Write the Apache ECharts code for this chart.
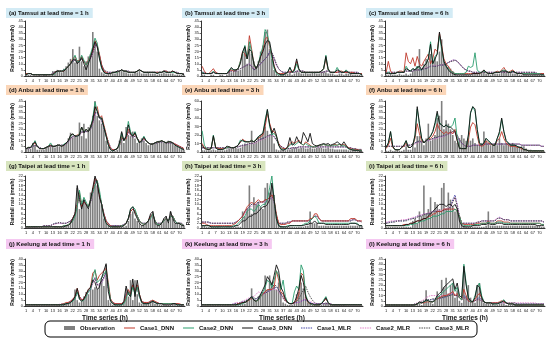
<!DOCTYPE html>
<html><head><meta charset="utf-8">
<script src="https://cdn.jsdelivr.net/npm/echarts@6/dist/echarts.min.js"></script>
<style>html,body{margin:0;padding:0;background:#fff}#c{width:550px;height:344px}</style>
</head><body><div id="c"></div>
<script>
// ---- categories / ticks ----
const hours = Array.from({length:72},(_,i)=>String(i+1));
const panelTitles = ['(a) Tamsui at lead time = 1 h','(b) Tamsui at lead time = 3 h','(c) Tamsui at lead time = 6 h',
 '(d) Anbu at lead time = 1 h','(e) Anbu at lead time = 3 h','(f) Anbu at lead time = 6 h',
 '(g) Taipei at lead time = 1 h','(h) Taipei at lead time = 3 h','(i) Taipei at lead time = 6 h',
 '(j) Keelung at lead time = 1 h','(k) Keelung at lead time = 3 h','(l) Keelung at lead time = 6 h'];
const yMaxes = [45,45,45,45,60,45,22,22,22,40,40,45];
const ySteps = [5,5,5,5,10,5,2,2,2,5,5,5];
const seriesNames = ['Observation','Case1_DNN','Case2_DNN','Case3_DNN','Case1_MLR','Case2_MLR','Case3_MLR'];

// ---- (a) Tamsui 1 h ----
const obsA=[1,1,1,0,0,0,1,0,1,1,0,0, 4,4,5,4,3,6,8,11,14,22,11,13, 24,12,8,12,16,18,36,27,20,6,3,2, 1,2,2,3,2,3,4,4,3,3,2,2, 2,3,3,4,2,2,2,3,2,2,2,1, 2,2,3,2,2,2,2,1,1,1,1,1];
const c1dA=[2,2,2,1,1,1,1,1,1,1,1,1, 1,3,4,4,4,4,6,8,10,14,16,12, 13,16,12,9,13,17,21,29,25,18,9,4, 3,2,2,3,3,3,4,5,4,4,3,3, 3,3,4,5,4,3,3,3,3,3,3,3, 3,3,4,4,3,3,4,3,2,2,2,1];
const c2dA=[1,2,2,1,1,1,1,1,1,1,1,1, 1,2,4,4,4,5,6,8,10,13,17,12, 12,17,13,9,12,18,24,31,27,15,6,3, 2,2,2,3,3,3,4,5,4,4,3,3, 3,3,4,5,4,3,3,3,3,3,3,2, 3,3,4,3,3,3,3,3,2,2,2,1];
const c3dA=[1,2,2,1,1,1,1,1,1,1,1,1, 1,3,4,4,4,4,6,8,10,13,14,10, 12,15,10,5,10,15,22,28,24,14,7,3, 2,2,2,3,3,4,4,5,4,4,3,3, 3,3,4,5,4,3,3,3,3,3,3,2, 3,3,4,3,3,3,4,3,2,2,2,1];
const c1mA=[2,2,2,1,1,1,1,1,1,1,1,1, 2,3,4,4,4,5,6,8,10,12,13,12, 12,14,12,10,12,15,19,26,24,17,9,5, 3,3,3,3,3,4,4,5,4,4,4,3, 3,3,4,5,4,3,3,3,3,3,3,3, 3,3,4,4,3,3,4,3,3,2,2,2];
const c2mA=[2,2,2,1,1,1,1,1,1,1,1,1, 2,3,4,4,4,5,6,8,10,12,14,12, 12,14,12,10,12,14,18,25,23,16,8,4, 3,3,3,3,3,4,4,5,4,4,4,3, 3,3,4,5,4,3,3,3,3,3,3,3, 3,3,4,4,3,3,4,3,3,2,2,2];
const c3mA=[2,2,2,1,1,1,1,1,1,1,1,1, 2,3,4,4,4,5,6,8,10,12,13,11, 12,14,11,9,12,15,19,25,24,17,9,5, 4,3,3,3,3,4,4,5,4,4,4,3, 3,3,4,5,4,3,3,3,3,3,3,3, 3,3,4,4,3,3,4,3,3,2,2,2];
// ---- (b) Tamsui 3 h ----
const obsB=[1,1,0,0,1,1,0,0,1,1,0,1, 4,3,4,5,4,5,18,24,10,25,18,12, 8,12,20,25,36,38,22,14,5,2,1,1, 1,2,2,3,1,2,4,3,2,2,3,2, 2,3,3,2,2,3,4,3,2,2,2,1, 1,2,2,1,2,2,2,1,1,1,1,1];
const c1dB=[8,4,2,2,4,6,3,2,2,2,2,2, 4,5,4,5,6,12,20,18,14,33,22,10, 6,10,16,22,30,32,24,16,8,3,2,2, 2,2,3,4,3,6,12,5,3,3,3,3, 3,3,3,3,3,4,6,14,5,3,3,3, 3,4,4,3,3,3,3,3,2,2,2,2];
const c2dB=[3,2,2,2,2,4,2,2,2,2,2,2, 5,6,5,5,6,12,18,25,14,28,20,10, 6,10,18,24,38,34,26,14,6,2,1,1, 1,2,3,7,3,4,10,5,3,3,3,3, 3,3,3,3,3,4,6,17,5,3,3,3, 7,4,3,3,5,3,2,2,2,2,2,1];
const c3dB=[2,2,2,2,2,3,2,2,2,2,2,2, 4,7,5,5,6,10,20,24,14,22,20,10, 6,10,16,20,26,29,28,18,8,3,2,1, 1,2,3,7,3,5,14,6,3,3,3,3, 3,3,3,3,3,4,6,16,6,3,3,3, 5,4,3,3,4,3,2,2,2,2,2,1];
const c1mB=[3,3,2,2,2,3,3,2,2,2,2,2, 3,4,4,4,5,6,7,8,9,10,8,5, 6,8,10,12,14,16,20,19,14,9,6,4, 3,3,3,3,3,3,4,4,4,4,3,3, 3,3,3,3,3,3,3,4,4,3,3,3, 3,3,3,3,3,3,3,3,3,3,2,2];
const c2mB=[3,3,2,2,2,3,3,2,2,2,2,2, 3,4,4,4,5,6,7,8,9,10,8,6, 6,8,10,12,14,16,19,18,14,9,6,4, 3,3,3,3,3,3,4,4,4,4,3,3, 3,3,3,3,3,3,3,4,4,3,3,3, 3,3,3,3,3,3,3,3,3,3,2,2];
const c3mB=[3,3,2,2,2,3,3,2,2,2,2,2, 3,4,4,4,5,6,7,8,9,9,8,5, 6,8,10,12,14,16,19,19,15,10,6,4, 3,3,3,3,3,3,4,4,4,4,3,3, 3,3,3,3,3,3,3,4,4,3,3,3, 3,3,3,3,3,3,3,3,3,3,2,2];
// ---- (c) Tamsui 6 h ----
const obsC=[1,1,2,1,1,1,2,1,1,2,1,2, 4,5,8,22,6,10,14,12,18,10,15,12, 20,30,12,10,8,6,4,2,1,1,1,1, 1,1,1,2,2,2,2,3,5,2,2,1, 2,2,2,2,3,4,4,3,3,2,2,2, 1,1,1,1,1,1,1,1,1,1,1,1];
const c1dC=[3,12,4,2,2,3,4,4,3,19,12,10, 15,8,16,10,8,12,15,18,10,14,22,20, 35,25,14,10,8,5,3,2,2,2,2,2, 2,2,2,2,2,2,2,3,4,3,2,2, 2,3,4,3,5,7,4,3,4,5,3,2, 2,2,2,2,2,2,2,2,2,2,2,2];
const c2dC=[2,3,2,2,2,3,3,3,3,8,5,4, 6,5,8,6,5,8,10,14,28,10,16,18, 33,22,12,8,6,4,3,2,2,2,2,2, 3,8,7,8,19,5,3,3,4,3,2,2, 2,3,3,3,4,5,4,3,3,4,3,2, 2,2,2,2,2,2,2,2,2,2,1,1];
const c3dC=[2,2,2,2,2,3,3,3,3,6,5,4, 6,5,7,8,5,8,10,14,26,10,14,18, 36,24,12,8,5,3,2,1,1,1,1,1, 1,1,1,2,2,2,2,3,5,3,2,2, 2,3,3,3,4,4,4,3,3,4,3,2, 2,2,1,1,1,1,1,1,1,1,1,1];
const c1mC=[3,3,3,3,3,3,3,3,3,4,4,4, 4,5,5,5,5,6,6,7,8,8,8,8, 9,9,9,10,11,12,13,13,12,10,8,6, 5,4,4,3,3,3,3,3,3,3,3,3, 3,3,3,3,3,3,3,3,3,3,3,3, 3,3,3,3,3,3,3,3,2,2,2,2];
const c2mC=[3,3,3,3,3,3,3,3,3,4,4,4, 4,5,5,5,6,6,7,7,8,8,9,8, 9,9,10,10,11,12,13,13,12,10,8,6, 5,4,4,3,3,3,3,3,3,3,3,3, 3,3,3,3,3,3,3,3,3,3,3,3, 3,3,3,3,3,3,3,3,2,2,2,2];
const c3mC=[3,3,3,3,3,3,3,3,3,4,4,4, 4,5,5,5,5,6,6,7,8,8,8,8, 9,9,9,10,11,12,12,13,12,10,8,6, 5,4,4,3,3,3,3,3,3,3,3,3, 3,3,3,3,3,3,3,3,3,3,3,3, 3,3,3,3,3,3,3,3,2,2,2,2];
// ---- (d) Anbu 1 h ----
const obsD=[3,3,3,8,6,2,2,2,2,4,5,5, 5,4,6,5,5,6,8,12,17,13,15,13, 26,14,25,12,22,24,32,45,32,28,25,22, 10,5,1,1,1,2,10,17,8,22,15,14, 18,12,8,10,12,10,8,6,7,8,8,9, 10,9,8,9,10,9,8,6,5,4,3,2];
const c1dD=[3,4,4,6,8,5,3,3,3,4,5,6, 5,5,6,6,5,6,8,10,14,16,14,15, 16,22,18,20,18,22,28,38,40,30,32,24, 16,8,3,2,2,3,6,14,10,12,20,16, 14,16,12,9,10,12,10,8,7,7,8,9, 9,10,9,8,9,9,8,7,6,5,4,3];
const c2dD=[3,4,4,6,10,5,3,3,3,4,5,8, 5,5,6,6,5,7,8,10,14,16,14,14, 16,22,18,20,18,22,30,44,36,30,30,22, 14,6,2,1,2,3,6,16,10,14,27,18, 14,18,12,8,10,14,10,8,7,7,8,9, 9,10,9,8,9,9,8,6,5,4,3,2];
const c3dD=[3,4,4,7,9,5,3,3,3,4,5,6, 5,5,6,6,5,6,8,10,15,16,14,14, 15,22,17,20,18,22,28,40,36,30,30,22, 14,6,2,1,2,3,8,18,10,14,24,16, 14,17,12,8,10,13,10,8,7,7,8,9, 9,10,9,8,9,9,8,6,5,4,3,2];
const c1mD=[3,3,4,5,6,5,4,3,3,4,5,5, 5,5,6,6,6,6,7,9,12,14,14,14, 15,18,18,18,18,20,26,34,35,30,28,22, 15,8,4,2,2,3,6,12,12,12,18,15, 13,14,12,9,9,11,10,8,7,7,8,8, 9,9,9,8,8,8,8,7,6,5,4,3];
const c2mD=[3,3,4,5,6,5,4,3,3,4,5,5, 5,5,6,6,6,6,7,9,11,13,14,14, 15,17,18,18,18,20,25,33,34,30,27,21, 14,8,4,2,2,3,6,11,12,12,17,15, 13,14,12,9,9,11,10,8,7,7,8,8, 9,9,9,8,8,8,8,7,6,5,4,3];
const c3mD=[3,3,4,5,6,5,4,3,3,4,5,5, 5,5,6,6,6,6,7,9,12,14,14,13, 15,18,17,18,18,20,26,35,35,31,28,22, 15,9,4,2,2,3,6,12,12,12,18,16, 13,14,12,9,9,11,10,8,7,7,8,8, 9,9,9,8,8,8,8,7,6,5,4,3];
// ---- (e) Anbu 3 h ----
const obsE=[2,2,2,2,2,3,2,2,2,2,2,3, 4,4,5,5,4,5,8,10,9,10,25,10, 12,18,20,22,30,25,20,25,10,3,2,2, 2,2,3,3,4,5,5,4,5,5,4,4, 5,4,4,5,5,5,4,4,5,4,4,3, 3,3,3,3,3,2,2,2,2,2,2,1];
const c1dE=[10,5,4,3,4,18,6,4,4,4,4,5, 6,5,5,6,8,12,15,13,12,12,14,12, 15,16,18,20,30,45,34,25,24,18,10,5, 4,4,6,10,12,10,12,14,10,8,12,10, 8,6,6,7,8,8,9,8,8,7,8,9, 8,9,8,9,7,5,4,3,3,3,2,2];
const c2dE=[25,8,4,3,4,20,5,3,3,3,4,5, 6,5,5,6,8,14,13,12,12,12,14,12, 15,18,20,22,38,50,30,20,22,18,8,4, 3,3,5,8,10,8,10,12,10,8,10,8, 7,6,6,7,8,8,9,8,8,7,8,8, 8,9,7,8,6,4,3,3,2,2,2,2];
const c3dE=[8,4,3,3,4,19,5,3,3,3,4,7, 6,5,5,6,8,12,14,12,12,12,13,12, 14,18,20,22,35,50,32,22,28,20,8,3, 2,3,6,17,8,10,18,12,10,23,18,12, 22,10,8,7,8,9,10,9,10,8,9,10, 12,10,8,12,8,4,3,2,2,2,1,1];
const c1mE=[5,5,5,5,5,5,5,5,5,5,5,5, 5,5,5,6,6,7,8,8,9,10,10,10, 12,14,15,16,17,18,20,20,18,14,10,7, 5,4,4,4,5,5,5,6,6,6,6,6, 6,6,6,6,6,6,6,6,6,6,6,6, 6,6,6,6,6,5,5,4,4,3,3,3];
const c2mE=[5,5,5,5,5,5,5,5,5,5,5,5, 5,5,5,6,6,7,7,8,9,9,10,10, 11,13,14,15,16,18,19,20,18,14,10,7, 5,4,4,4,5,5,5,6,6,6,6,6, 6,6,6,6,6,6,6,6,6,6,6,6, 6,6,6,6,6,5,5,4,4,3,3,3];
const c3mE=[5,5,5,5,5,5,5,5,5,5,5,5, 5,5,5,6,6,7,8,8,9,10,10,11, 12,14,15,16,17,19,20,21,18,14,10,7, 5,4,4,4,5,5,5,6,6,6,6,6, 6,6,6,6,6,6,6,6,6,6,6,6, 6,6,6,6,6,5,5,4,4,3,3,3];
// ---- (f) Anbu 6 h ----
const obsF=[1,1,2,1,1,2,1,1,2,5,2,2, 8,4,14,14,10,6,12,25,10,12,15,30, 32,45,20,28,25,20,15,10,8,12,15,12, 10,12,10,12,8,6,6,8,18,10,8,6, 6,8,6,12,8,6,8,8,7,8,6,5, 5,5,5,3,2,2,1,1,1,1,1,1];
const c1dF=[3,6,12,4,2,2,2,4,5,8,4,4, 6,12,25,16,10,8,10,12,12,14,18,25, 20,18,16,18,16,18,16,20,10,4,3,3, 3,10,22,26,24,14,6,5,6,10,8,7, 6,6,10,12,18,12,8,6,5,5,5,4, 4,3,2,2,1,1,1,1,1,1,1,1];
const c2dF=[4,8,18,5,2,2,2,4,6,10,4,4, 6,14,38,24,12,8,10,12,14,18,24,34, 26,24,22,24,22,22,24,30,12,4,3,3, 3,14,34,40,36,20,8,6,8,12,10,8, 6,6,12,16,29,18,10,8,6,6,6,5, 4,4,2,2,1,1,1,1,1,1,1,1];
const c3dF=[4,8,18,5,2,2,2,4,6,10,4,4, 6,15,40,25,12,8,10,12,14,18,26,36, 25,24,22,24,22,22,20,18,10,3,3,3, 3,15,35,40,38,20,8,6,8,12,10,8, 6,6,12,18,30,18,10,8,6,6,6,5, 4,4,2,2,1,1,1,1,1,1,1,1];
const c1mF=[5,5,5,5,5,5,5,5,5,6,6,6, 7,8,9,9,9,9,10,10,11,12,12,13, 13,14,14,15,16,17,18,17,14,10,8,6, 5,5,5,6,6,6,6,6,7,7,7,7, 7,7,7,7,7,7,7,7,7,7,7,7, 7,6,6,6,6,6,6,6,6,6,5,5];
const c2mF=[5,5,5,5,5,5,5,5,5,6,6,6, 7,7,8,9,9,9,10,10,11,11,12,12, 13,13,14,15,16,16,17,17,14,10,8,6, 5,5,5,6,6,6,6,6,7,7,7,7, 7,7,7,7,7,7,7,7,7,7,7,7, 7,6,6,6,6,6,6,6,6,6,5,5];
const c3mF=[5,5,5,5,5,5,5,5,5,6,6,6, 7,8,9,10,9,9,10,11,11,12,13,13, 14,14,15,15,16,17,18,18,15,11,8,6, 5,5,5,6,6,6,6,6,7,7,7,7, 7,7,7,7,7,7,7,7,7,7,7,7, 7,6,6,6,6,6,6,6,6,6,5,5];
// ---- (g) Taipei 1 h ----
const obsG=[0.5,0.5,0.5,0.5,0.5,0.3,0.3,0.3,0.3,0.3,0.3,0.3, 0.3,0.5,0.5,0.5,0.5,0.5,1,1,3,4,6,17, 8,10,12,10,8,15,17,21,18,14,10,4, 2,1,0.5,0.5,0.5,0.5,0.5,0.5,0.5,1,3,6, 7,4,3,2,1,1,2,3,5,7,3,1, 1,2,4,5,2,7,4,2,2,2,1,1];
const c1dG=[0.5,0.5,0.5,0.5,0.5,0.5,0.5,0.5,0.5,0.5,0.5,0.5, 0.5,0.5,0.5,0.5,0.5,1,1,1.5,2,4,6,10, 15,9,11,10,9,12,16,21,20,14,10,6, 3,1.5,1,0.5,0.5,0.5,0.5,1,1,2,4,7, 8,7,5,3,2,1.5,2,3,5,6,3,1.5, 1.5,2,3,4,3,5,5,3,2,2,1.5,1];
const c2dG=[0.5,0.5,0.5,0.5,0.5,0.5,0.5,0.5,0.5,0.5,0.5,0.5, 0.5,0.5,0.5,0.5,0.5,1,1,1.5,2,3,5,9, 16,10,13,11,9,12,15,18,20,16,10,5, 2,1,0.5,0.5,0.5,0.5,0.5,1,1,2,4,8, 9,8,5,3,2,1.5,2,3,4,6,3,1.5, 1.5,2,3,4,3,5,5,3,2,2,1.5,1];
const c3dG=[0.5,0.5,0.5,0.5,0.5,0.5,0.5,0.5,0.5,0.5,0.5,0.5, 0.5,0.5,0.5,0.5,0.5,0.5,1,1,2,4,6,18, 12,8,12,10,8,12,17,22,19,13,10,5, 2,1,0.5,0.5,0.5,0.5,0.5,0.5,1,2,4,8, 9,6,4,2,1,1,2,3,6,7,2,1, 1,2,4,5,2,7,4,2,2,2,1,1];
const c1mG=[0.5,0.5,0.5,0.5,0.5,0.5,0.5,0.5,1,1,1,1, 1.5,2,2,2,2,2,2,2.5,3,4,6,10, 13,10,11,10,9,11,15,20,19,14,10,6, 3,2,1,1,1,1,1,1,1.5,2,4,7, 8,7,5,3,2,2,2,3,5,6,3,2, 2,2,3,4,3,5,5,3,2,2,2,1];
const c2mG=[0.5,0.5,0.5,0.5,0.5,0.5,0.5,0.5,1,1,1,1, 1.5,1.5,2,2,2,2,2,2.5,3,4,6,9, 13,10,11,10,9,11,14,19,19,14,10,6, 3,2,1,1,1,1,1,1,1.5,2,4,7, 8,7,5,3,2,2,2,3,5,6,3,2, 2,2,3,4,3,5,5,3,2,2,2,1];
const c3mG=[0.5,0.5,0.5,0.5,0.5,0.5,0.5,0.5,1,1,1,1, 1.5,2,2,2.5,2,2,2,2.5,3,4,6,10, 14,10,11,10,9,11,15,20,20,14,10,6, 3,2,1,1,1,1,1,1,1.5,2,4,7, 8,7,5,3,2,2,2,3,5,6,3,2, 2,2,3,4,3,5,5,3,2,2,2,1];
// ---- (h) Taipei 3 h ----
const obsH=[1,1,0.5,0.5,0.5,0.5,0.5,0.5,0.3,0.3,0.3,0.3, 0.3,0.3,0.3,0.5,0.5,0.5,7,5,8,18,6,13, 10,11,9,8,17,19,15,18,14,5,2,1, 0.5,0.5,0.5,0.5,0.5,0.5,0.5,0.5,0.5,0.5,1,1, 7,2,2,2,1,1,1,1,1,1,1,1, 1,1,1,1,1,1,1,1,1,1,1,1];
const c1dH=[2,2,1.5,1,1,1,1,1,1,1,1,1, 1,1,1.5,2,3,4,5,7,9,10,11,10, 11,12,11,11,12,12,13,14,12,6,2,1.5, 1.5,1.5,2,2,3,3,3,3,3,3,3,3, 4,4,6,6,4,3,3,3,3,3,3,3, 3,3,3,3,3,3,4,4,4,3,3,3];
const c2dH=[1,1,1,1,0.5,0.5,0.5,0.5,0.5,0.5,0.5,0.5, 0.5,0.5,1,1,2,3,4,5,7,8,8,7, 8,10,9,10,10,12,17,22,12,4,1,0.5, 0.5,0.5,1,1,1,1,1,1,1,1.5,2,2, 3,4,5,4,2,2,2,2,2,2,2,2, 2,2,2,2,2,2,2,2,2,2,1,1];
const c3dH=[1,1,1,1,0.5,0.5,0.5,0.5,0.5,0.5,0.5,0.5, 0.5,0.5,0.5,1,1,2,3,3,4,5,5,6, 6,7,8,9,9,10,12,19,12,4,1,0.5, 0.5,0.5,0.5,1,1,1,1,1,1,1,1.5,1.5, 2,2,3,2,2,2,2,1.5,1.5,1.5,1.5,1.5, 1.5,1.5,1.5,1.5,1.5,1.5,2,2,2,1.5,1,1];
const c1mH=[2.5,2.5,2.5,2.5,2,2,2,2,2,2,2,2, 2,2,2,2.5,3,4,5,7,8,9,10,10, 10,11,11,11,11,12,12,13,11,5,2,2, 2,2,2.5,2.5,3,3,3,3,3,3,3,3, 3,4,5,5,4,3,3,3,3,3,3,3, 3,3,3,3,3,3,3,3.5,3.5,3,3,2.5];
const c2mH=[2.5,2.5,2.5,2,2,2,2,2,2,2,2,2, 2,2,2,2.5,3,4,5,6,8,9,9,10, 10,10,11,11,11,12,12,13,11,5,2,2, 2,2,2.5,2.5,3,3,3,3,3,3,3,3, 3,4,5,5,4,3,3,3,3,3,3,3, 3,3,3,3,3,3,3.5,3.5,3.5,3,3,2.5];
const c3mH=[2.5,2.5,2.5,2.5,2,2,2,2,2,2,2,2, 2,2,2,2.5,3,4,5,7,8,9,10,10, 10,11,11,11,12,12,13,14,11,5,2,2, 2,2,2.5,2.5,3,3,3,3,3,3,3,3, 3,4,5,5,4,3,3,3,3,3,3,3, 3,3,3,3,3,3,3,3.5,3.5,3,3,2.5];
// ---- (i) Taipei 6 h ----
const obsI=[0.5,0.5,0.5,0.5,0.5,0.5,0.5,0.5,0.5,0.5,0.5,0.5, 3,4,2,7,5,18,6,8,13,6,11,10, 8,17,19,8,15,12,9,7,8,5,2,1, 0.5,0.5,0.5,0.5,0.5,0.5,0.5,0.5,0.5,1,7,1, 1,1,1,1,1,1,1,1,1,1,1,1, 1,1,1,1,1,1,1,1,1,1,0.5,0.5];
const c1dI=[1,1,1,1,1,1,1,1,1.5,1.5,1.5,2, 2,2.5,3,3,3.5,4,4,5,5,6,6,7, 7,7,8,8,8,8,8,8,7,5,2,1.5, 1.5,1.5,1.5,1.5,1.5,2,2,2,2,2,3,2, 2,2,3,3,3,2.5,2.5,2.5,2,2,2,2, 2,2,2,2,2,2,2,2,2,2,1.5,1.5];
const c2dI=[1,1,1,1,1,1,1,1,1,1,1,1.5, 1.5,2,2,2.5,3,3,3.5,4,4,5,5,5, 5.5,6,6,7,7,7,7,8,7,5,2,1, 1,1,1,1,1.5,1.5,1.5,2,2,2,2.5,2, 2,2,2.5,2.5,2.5,2,2,2,2,2,2,2, 2,2,2,2,2,2,2,2,2,2,1.5,1.5];
const c3dI=[1,1,1,1,1,1,1,1,1,1.5,1.5,2, 2,2.5,3,3,3.5,4,4,5,6,7,8,9, 10,10,10,9,10,10,9,10,8,3,1,0.5, 0.5,0.5,0.5,1,1,1,1,1.5,1.5,1.5,2,1.5, 1.5,1.5,2,2,2,1.5,1.5,1.5,1.5,1.5,1.5,1.5, 1.5,1.5,1.5,1.5,1.5,1.5,1.5,1.5,1,1,1,1];
const c1mI=[2,2.5,2.5,2.5,3,3,3,3,3,3.5,3.5,4, 4,4.5,5,5,5.5,6,6,6,6.5,7,7,7, 7,7,7.5,8,8,9,12,14,10,5,2,2, 2,2,2,2,2,2.5,2.5,3,3,3,3,3, 3,3,4,4.5,4,3.5,3.5,3.5,3,3,3,3, 3,3,3,3,3,3,3,3,3,3,3,2.5];
const c2mI=[2.5,2.5,3,3,3,3,3,3.5,3.5,3.5,4,4, 4.5,4.5,5,5.5,5.5,6,6,6.5,6.5,7,7,7.5, 7.5,7.5,8,8,8.5,9,11,13,10,5,2,2, 2,2,2,2,2,2.5,2.5,3,3,3,3,3, 3,3.5,4,4.5,4,3.5,3.5,3.5,3,3,3,3, 3,3,3,3,3,3,3,3,3,3,3,2.5];
const c3mI=[2,2,2.5,2.5,2.5,3,3,3,3,3,3.5,3.5, 4,4,4.5,5,5,5.5,6,6,6,6.5,7,7, 7,7,7.5,8,8,9,11,13,9,5,2,2, 2,2,2,2,2,2.5,2.5,3,3,3,3,3, 3,3,4,4,4,3.5,3.5,3.5,3,3,3,3, 3,3,3,3,3,3,3,3,3,3,3,2.5];
// ---- (j) Keelung 1 h ----
const obsJ=[0.5,0.5,0.5,0.5,0.5,0.5,0.5,0.5,0.5,0.5,0.5,0.5, 0.5,0.5,0.5,1,1,1,2,2,3,5,14,5, 3,4,8,12,10,15,14,16,14,18,22,17, 35,5,3,1,1,1,1,1,3,15,8,22, 5,22,10,3,2,2,2,3,4,5,2,2, 1,1,1,1,1,1,2,2,1,1,1,0.5];
const c1dJ=[1,1,1,1,1,1,1,1,1,1,1,1, 1,1,1,1,1.5,2,3,3,4,6,8,15, 8,5,6,10,14,16,28,30,22,26,28,30, 32,20,6,3,2,2,2,2,3,8,14,10, 18,12,18,10,4,3,3,3,4,5,4,3, 2,2,2,2,2,2,2,2,2,2,1,1];
const c2dJ=[1,1,1,1,1,1,1,1,1,1,1,1, 1,1,1,1,1,1.5,2,2,3,4,6,12, 6,4,5,8,12,14,24,31,20,22,24,27, 30,18,5,2,1,1,1,1,2,6,12,8, 16,10,16,8,3,2,2,2,3,4,3,2, 2,2,2,2,2,2,2,2,1,1,1,1];
const c3dJ=[1,1,1,1,1,1,1,1,1,1,1,1, 1,1,1,1,1,1,2,2,3,5,8,15, 6,4,6,10,14,16,22,20,14,16,24,30, 36,12,4,2,1,1,1,1,4,17,10,8, 23,8,22,10,3,2,2,2,3,4,3,2, 2,2,1,1,1,1,2,2,1,1,1,1];
const c1mJ=[1,1,1,1,1,1,1,1,1,1,1,1, 1,1,1,1,1.5,2,2,3,4,5,7,12, 8,5,6,9,12,14,20,24,18,18,20,24, 28,15,5,3,2,2,2,2,3,10,12,10, 18,12,16,8,4,3,3,3,4,4,3,3, 2,2,2,2,2,2,2,2,2,1,1,1];
const c2mJ=[1,1,1,1,1,1,1,1,1,1,1,1, 1,1,1,1.5,1.5,2,2,3,4,5,7,11, 8,6,6,9,12,14,19,23,18,18,20,23, 27,15,6,3,2,2,2,2,3,9,12,10, 17,12,15,8,4,3,3,3,4,4,3,3, 2,2,2,2,2,2,2,2,2,1,1,1];
const c3mJ=[1,1,1,1,1,1,1,1,1,1,1,1, 1,1,1,1,1.5,2,2,3,4,5,7,12, 8,5,6,9,13,15,21,24,18,19,21,25, 29,16,5,3,2,2,2,2,3,10,13,10, 18,12,16,8,4,3,3,3,4,4,3,3, 2,2,2,2,2,2,2,2,2,1,1,1];
// ---- (k) Keelung 3 h ----
const obsK=[0.5,0.5,0.5,0.5,0.5,0.5,0.5,0.5,0.5,0.5,0.5,0.5, 0.5,0.5,0.5,1,1,2,3,2,5,6,15,6, 4,8,10,12,26,14,26,20,17,14,20,12, 3,2,1,1,1,3,10,12,20,15,8,3, 2,1,1,1,1,1,2,3,2,1,1,1, 1,1,1,1,0.5,0.5,0.5,0.5,0.5,0.5,0.5,0.5];
const c1dK=[1,1,1,1,1,1,1,1,1,1,1,1, 1,1,1,1,2,2,3,3,4,5,7,5, 4,5,8,10,12,14,14,14,16,30,22,12, 10,5,3,2,2,3,5,10,28,26,8,3, 2,1,1,1,1,2,4,6,3,1,1,1, 1,1,1,1,1,1,1,1,1,1,1,1];
const c2dK=[1,1,1,1,1,1,1,1,1,1,1,1, 1,1,1,1,1,1.5,2,3,4,6,8,5, 4,5,8,12,16,22,20,16,22,30,26,14, 22,8,3,2,2,12,17,14,35,30,10,4, 2,1,1,1,1,2,5,8,3,1,1,1, 1,1,1,1,1,1,1,1,1,1,1,1];
const c3dK=[1,1,1,1,1,1,1,1,1,1,1,1, 1,1,1,1,1.5,2,3,3,4,6,8,5, 4,6,10,14,18,25,22,18,26,35,30,16, 12,6,3,2,2,3,8,15,26,20,8,4, 2,2,1,1,1,2,4,7,3,1,1,1, 1,1,1,1,1,1,1,1,1,1,1,1];
const c1mK=[1,1,1,1,1,1,1,1,1,1,1,1, 1,1,2,2,2,3,4,4,5,6,7,6, 6,7,8,10,11,12,13,14,15,16,14,10, 8,5,3,2,2,3,3,3,4,5,5,4, 3,2,2,2,2,2,2,2,2,2,1,1, 1,1,1,1,1,1,1,1,1,1,1,1];
const c2mK=[1,1,1,1,1,1,1,1,1,1,1,1, 1,1,2,3,3,3,4,5,6,7,8,8, 10,12,11,10,11,12,13,14,14,14,12,9, 6,4,3,2,2,2,3,3,4,5,6,5, 4,3,2,2,2,2,2,2,2,2,1,1, 1,1,1,1,1,1,1,1,1,1,1,1];
const c3mK=[1,1,1,1,1,1,1,1,1,1,1,1, 1,1,1,2,2,3,3,4,5,6,8,7, 6,8,10,12,11,12,14,16,18,17,14,10, 7,4,3,2,2,3,4,6,10,14,17,12, 8,5,3,2,2,2,2,2,2,2,1,1, 1,1,1,1,1,1,1,1,1,1,1,1];
// ---- (l) Keelung 6 h ----
const obsL=[0.5,0.5,0.5,0.5,0.5,0.5,0.5,0.5,0.5,0.5,0.5,0.5, 0.5,0.5,3,2,1,3,15,4,3,2,5,14, 10,25,18,27,12,20,22,8,15,5,3,34, 10,20,8,5,3,20,22,8,3,2,2,2, 2,1,1,2,2,2,1,1,1,1,1,1, 1,1,0.5,0.5,0.5,0.5,0.5,0.5,0.5,0.5,0.5,0.5];
const c1dL=[1,1,1,1,1,1,1,1,1,1,1,1, 1,1,2,3,3,3,4,4,4,4,5,7, 8,9,10,10,11,12,14,10,12,8,6,16, 10,5,4,4,6,10,12,8,4,3,3,3, 3,3,3,4,5,4,3,2,2,2,1,1, 1,1,1,1,1,1,1,1,1,1,1,1];
const c2dL=[1,1,1,1,1,1,1,1,1,1,1,1, 1,1,2,3,3,4,5,5,4,4,5,8, 10,12,14,16,18,20,22,14,18,8,6,40, 22,8,4,4,10,18,22,10,4,3,3,3, 2,2,2,3,4,6,3,2,2,2,1,1, 1,1,1,1,1,1,1,1,1,1,1,1];
const c3dL=[1,1,1,1,1,1,1,1,1,1,1,1, 1,1,2,4,3,4,6,5,4,4,6,10, 12,14,18,20,22,24,26,16,22,10,8,38, 20,8,5,4,8,20,18,8,4,3,3,3, 2,2,2,3,4,5,3,2,2,2,1,1, 1,1,1,1,1,1,1,1,1,1,1,1];
const c1mL=[1,1,1,1,1,1,1,1,1,1,1,1, 1,2,2,3,3,4,5,6,6,6,6,7, 7,8,8,9,10,11,12,10,10,8,6,10, 8,5,4,4,5,7,8,6,4,3,3,3, 3,3,3,3,3,3,3,2,2,2,2,2, 2,2,2,2,2,2,2,2,2,2,2,2];
const c2mL=[1,1,1,1,1,1,1,1,1,1,1,1, 1,2,3,4,5,6,8,9,10,10,10,10, 10,10,10,10,11,12,12,10,10,8,6,8, 7,5,4,4,5,6,6,5,4,3,3,3, 3,3,3,3,3,3,3,3,3,3,3,3, 3,3,3,3,3,3,3,3,2,2,2,2];
const c3mL=[1,1,1,1,1,1,1,1,1,1,1,1, 1,2,2,3,4,5,6,6,6,7,7,7, 8,8,9,9,10,10,11,10,10,8,6,8, 7,5,4,4,5,6,6,5,4,3,3,3, 3,3,3,3,3,3,3,3,3,3,3,2, 2,2,2,2,2,2,2,2,2,2,2,2];

const OBS=[obsA,obsB,obsC,obsD,obsE,obsF,obsG,obsH,obsI,obsJ,obsK,obsL];
const C1D=[c1dA,c1dB,c1dC,c1dD,c1dE,c1dF,c1dG,c1dH,c1dI,c1dJ,c1dK,c1dL];
const C2D=[c2dA,c2dB,c2dC,c2dD,c2dE,c2dF,c2dG,c2dH,c2dI,c2dJ,c2dK,c2dL];
const C3D=[c3dA,c3dB,c3dC,c3dD,c3dE,c3dF,c3dG,c3dH,c3dI,c3dJ,c3dK,c3dL];
const C1M=[c1mA,c1mB,c1mC,c1mD,c1mE,c1mF,c1mG,c1mH,c1mI,c1mJ,c1mK,c1mL];
const C2M=[c2mA,c2mB,c2mC,c2mD,c2mE,c2mF,c2mG,c2mH,c2mI,c2mJ,c2mK,c2mL];
const C3M=[c3mA,c3mB,c3mC,c3mD,c3mE,c3mF,c3mG,c3mH,c3mI,c3mJ,c3mK,c3mL];

// ---- layout / style ----
const colLeft=[25,201,385], colWidth=[160,162,160];
const rowTop=[21,101,176,259], rowHeight=[55,51,52,47];
const titleTop=[8,85,161,239];
const titleBg=['#d3ebf5','#fbd6b8','#d8e5bf','#f5c8f1'];
const colors={obs:'#7f7f7f',c1d:'#c0392b',c2d:'#2a9d6e',c3d:'#111111',c1m:'#3a3aa0',c2m:'#e07cc6',c3m:'#444444'};
const FONT='Arial, "Liberation Sans", sans-serif';
const ICON_BAR='path://M0,0h11v4h-11z';
const ICON_SOLID='path://M0,0h0.05v0.05h-0.05z M0,1.5h11v1h-11z M10.95,3.95h0.05v0.05h-0.05z';
const ICON_DASH='path://M0,0h0.05v0.05h-0.05z M0,1.5h1.4v1h-1.4z M2.4,1.5h1.4v1h-1.4z M4.8,1.5h1.4v1h-1.4z M7.2,1.5h1.4v1h-1.4z M9.6,1.5h1.4v1h-1.4z M10.95,3.95h0.05v0.05h-0.05z';

const grids=[],xAxes=[],yAxes=[],series=[],titles=[];
for(let p=0;p<12;p++){
  const r=Math.floor(p/3), c=p%3;
  grids.push({left:colLeft[c],top:rowTop[r],width:colWidth[c],height:rowHeight[r]});
  xAxes.push({type:'category',gridIndex:p,data:hours,boundaryGap:true,
    axisLine:{lineStyle:{color:'#000',width:0.8}},axisTick:{show:false},
    axisLabel:{interval:2,fontSize:4,color:'#222',margin:3,fontFamily:FONT},
    name:r===3?'Time series (h)':'',nameLocation:'middle',nameGap:9,
    nameTextStyle:{fontSize:6.5,fontWeight:'bold',color:'#111',fontFamily:FONT}});
  yAxes.push({type:'value',gridIndex:p,min:0,max:yMaxes[p],interval:ySteps[p],
    axisLine:{show:true,lineStyle:{color:'#000',width:0.8}},axisTick:{show:true,length:1.5,lineStyle:{color:'#000',width:0.6}},
    splitLine:{show:false},axisLabel:{fontSize:4,color:'#222',margin:2,fontFamily:FONT},
    name:'Rainfall rate (mm/h)',nameLocation:'middle',nameGap:9,nameRotate:90,
    nameTextStyle:{fontSize:5,fontWeight:'bold',color:'#111',fontFamily:FONT}});
  titles.push({text:panelTitles[p],left:colLeft[c]-19,top:titleTop[r],backgroundColor:titleBg[r],
    padding:[2,4,2,3],textStyle:{fontSize:6,fontWeight:'bold',color:'#111',fontFamily:FONT}});
  series.push({name:seriesNames[0],type:'bar',xAxisIndex:p,yAxisIndex:p,data:OBS[p],barCategoryGap:'28%',
    itemStyle:{color:colors.obs},z:1,animation:false});
  const lines=[[seriesNames[4],C1M[p],colors.c1m,true,2],[seriesNames[5],C2M[p],colors.c2m,true,2],[seriesNames[6],C3M[p],colors.c3m,true,2],
               [seriesNames[1],C1D[p],colors.c1d,false,3],[seriesNames[2],C2D[p],colors.c2d,false,3],[seriesNames[3],C3D[p],colors.c3d,false,4]];
  lines.forEach(([n,d,col,dash,z])=>{
    series.push({name:n,type:'line',xAxisIndex:p,yAxisIndex:p,data:d,symbol:'none',showSymbol:false,z:z,animation:false,
      lineStyle:{color:col,width:0.9,type:dash?[1.5,1]:'solid'},itemStyle:{color:col}});
  });
}

const legendData=seriesNames.map((n,i)=>({name:n,icon:i===0?ICON_BAR:(i<=3?ICON_SOLID:ICON_DASH)}));

const chart=echarts.init(document.getElementById('c'),null,{renderer:'canvas'});
chart.setOption({
  animation:false,
  backgroundColor:'#fff',
  title:titles,
  grid:grids,xAxis:xAxes,yAxis:yAxes,series:series,
  legend:{data:legendData,left:64,top:325,padding:0,itemWidth:11,itemHeight:4,itemGap:9,
    textStyle:{fontSize:6,fontWeight:'bold',color:'#111',fontFamily:FONT}},
  graphic:[{type:'rect',shape:{x:45,y:321,width:432,height:16,r:5},style:{fill:'none',stroke:'#000',lineWidth:1},z:-1}]
});
</script></body></html>
